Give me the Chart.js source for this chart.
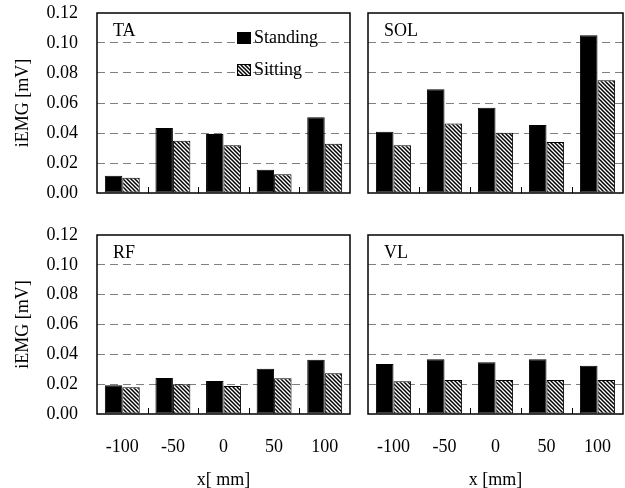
<!DOCTYPE html>
<html>
<head>
<meta charset="utf-8">
<script src="https://cdn.jsdelivr.net/npm/chart.js@4/dist/chart.umd.min.js"></script>
<style>
  body { margin: 0; background: #fff; }
  #wrap { position: relative; width: 625px; height: 488px; }
  canvas { position: absolute; }
</style>
</head>
<body>
<div id="wrap">
  <canvas id="ta" width="360" height="207" style="left:0;top:0"></canvas>
  <canvas id="sol" width="273" height="207" style="left:352px;top:0"></canvas>
  <canvas id="rf" width="360" height="266" style="left:0;top:222px"></canvas>
  <canvas id="vl" width="273" height="266" style="left:352px;top:222px"></canvas>
</div>
<script>
var positions = ['-100', '-50', '0', '50', '100'];
var seriesNames = ['Standing', 'Sitting'];
var taStanding = [0.0115, 0.0433, 0.0393, 0.0155, 0.0505];
var taSitting = [0.0102, 0.0349, 0.0318, 0.0125, 0.0329];
var solStanding = [0.0409, 0.0691, 0.0569, 0.0453, 0.1051];
var solSitting = [0.0318, 0.0464, 0.0402, 0.0340, 0.0751];
var rfStanding = [0.0192, 0.0241, 0.0221, 0.0304, 0.0364];
var rfSitting = [0.0179, 0.0199, 0.0188, 0.0239, 0.0273];
var vlStanding = [0.0335, 0.0367, 0.0347, 0.0367, 0.0324];
var vlSitting = [0.0220, 0.0228, 0.0228, 0.0228, 0.0228];
var yMax = 0.12;
var yStep = 0.02;

Chart.defaults.font.family = '"Liberation Serif", "Times New Roman", serif';
Chart.defaults.font.size = 18;
Chart.defaults.color = '#000';

// hatch for the Sitting bars
function makeHatch() {
    var c = document.createElement('canvas');
    c.width = 4; c.height = 4;
    var g = c.getContext('2d');
    g.fillStyle = '#fff';
    g.fillRect(0, 0, 4, 4);
    g.strokeStyle = '#000';
    g.lineWidth = 1.5;
    g.beginPath();
    g.moveTo(-1, -1); g.lineTo(5, 5);
    g.moveTo(-1, 3); g.lineTo(1, 5);
    g.moveTo(3, -1); g.lineTo(5, 1);
    g.stroke();
    return g.createPattern(c, 'repeat');
}
var hatch = makeHatch();

// frame, inward ticks, panel name and (optional) legend
var panelPlugin = {
    id: 'panel',
    afterDraw: function(chart, args, opts) {
        var ctx = chart.ctx, a = chart.chartArea, xs = chart.scales.x;
        ctx.save();
        ctx.strokeStyle = '#000';
        ctx.lineWidth = 1;
        ctx.beginPath();
        for (var i = 0; i < positions.length - 1; i++) {
            var x = Math.round((xs.getPixelForValue(i) + xs.getPixelForValue(i + 1)) / 2) + 0.5;
            ctx.moveTo(x, a.bottom);
            ctx.lineTo(x, a.bottom - 6);
        }
        ctx.stroke();
        ctx.lineWidth = 1.5;
        ctx.strokeRect(a.left, a.top, a.right - a.left, a.bottom - a.top);
        ctx.font = '18px "Liberation Serif"';
        ctx.fillStyle = '#000';
        ctx.textBaseline = 'middle';
        ctx.textAlign = 'left';
        ctx.fillText(opts.name, a.left + 16, a.top + 18);
        if (opts.legend) {
            var ys = [38, 70];
            chart.data.datasets.forEach(function(ds, i) {
                var y = ys[i];
                ctx.fillStyle = ds.backgroundColor;
                ctx.fillRect(237, y - 6, 14, 12);
                ctx.lineWidth = 1;
                ctx.strokeRect(237.5, y - 5.5, 13, 11);
                ctx.fillStyle = '#000';
                ctx.fillText(ds.label, 254, y);
            });
        }
        ctx.restore();
    }
};

function makeChart(id, name, standing, sitting, opt) {
    var left = opt.left;
    var bottom = opt.bottom;
    return new Chart(document.getElementById(id), {
        type: 'bar',
        data: {
            labels: positions,
            datasets: [
                { label: seriesNames[0], data: standing, backgroundColor: '#000', borderColor: '#000', borderWidth: 1 },
                { label: seriesNames[1], data: sitting, backgroundColor: hatch, borderColor: '#000', borderWidth: 1 }
            ]
        },
        options: {
            responsive: false,
            animation: false,
            events: [],
            datasets: { bar: { categoryPercentage: 0.69, barPercentage: 1, borderSkipped: false } },
            layout: { padding: { top: 13, right: opt.padRight, bottom: 0, left: 0 } },
            plugins: { legend: { display: false }, tooltip: { enabled: false }, panel: { name: name, legend: opt.legend } },
            scales: {
                x: {
                    grid: { display: false },
                    border: { display: false },
                    ticks: { display: bottom, padding: 14 },
                    title: { display: bottom, text: opt.xTitle, padding: { top: 0, bottom: -3 } },
                    afterFit: function(s) {
                        s.height = opt.xHeight;
                        s.paddingLeft = 0; s.paddingRight = 0;
                    }
                },
                y: {
                    min: 0, max: yMax,
                    grid: {
                        drawTicks: false,
                        lineWidth: 1,
                        color: function(c) {
                            if (!c.tick) return 'transparent';
                            var v = c.tick.value;
                            return (v < 0.001 || v > yMax - 0.001) ? 'transparent' : '#808080';
                        }
                    },
                    border: { display: false, dash: [8, 5] },
                    ticks: {
                        display: left, stepSize: yStep, padding: 19,
                        callback: function(v) { return v.toFixed(2); }
                    },
                    title: { display: left, text: 'iEMG [mV]', padding: { top: 12, bottom: 0 } },
                    afterFit: function(s) {
                        s.width = left ? 97 : 16;
                        s.paddingTop = 0; s.paddingBottom = 0;
                    }
                }
            }
        },
        plugins: [panelPlugin]
    });
}

makeChart('ta', 'TA', taStanding, taSitting, { left: true, bottom: false, padRight: 10, xHeight: 14, legend: true });
makeChart('sol', 'SOL', solStanding, solSitting, { left: false, bottom: false, padRight: 2, xHeight: 14 });
makeChart('rf', 'RF', rfStanding, rfSitting, { left: true, bottom: true, padRight: 10, xHeight: 74, xTitle: 'x[ mm]' });
makeChart('vl', 'VL', vlStanding, vlSitting, { left: false, bottom: true, padRight: 2, xHeight: 74, xTitle: 'x [mm]' });
</script>
</body>
</html>
